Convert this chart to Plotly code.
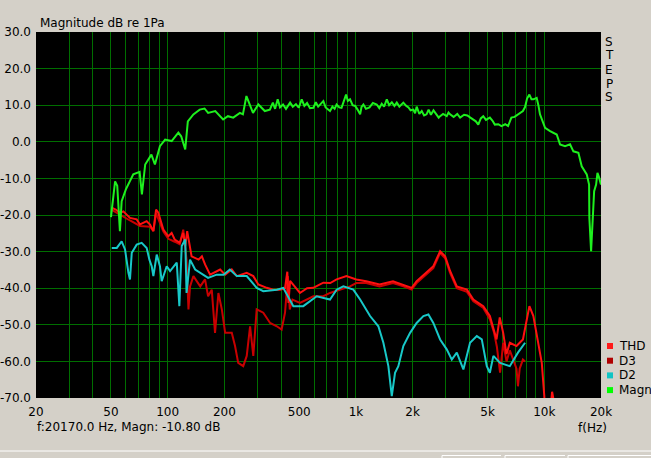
import math
import plotly.graph_objects as go

# ---------------- data ----------------
magn_f = [50, 52.6, 54, 55.8, 57, 60, 65.7, 71, 73, 76,
          82, 85.6, 91, 97, 105, 114, 118, 124, 128, 137,
          148, 157, 164, 179, 197, 209, 223, 242, 251, 262,
          284, 303, 328, 349, 362, 372, 384, 395, 410, 425,
          447, 462, 480, 497, 515, 532, 550, 570, 594, 612,
          630, 650, 671, 690, 710, 728, 750, 770, 789, 815,
          838, 860, 886, 905, 930, 960, 990, 1020, 1052, 1070,
          1095, 1130, 1180, 1230, 1289, 1330, 1370, 1410, 1458, 1500,
          1550, 1600, 1647, 1700, 1784, 1850, 1900, 1950, 2017, 2060,
          2100, 2170, 2235, 2300, 2370, 2430, 2500, 2580, 2680, 2750,
          2797, 2900, 3033, 3100, 3160, 3300, 3450, 3572, 3750, 3900,
          4050, 4202, 4330, 4461, 4600, 4741, 4900, 5140, 5300, 5462,
          5700, 5922, 6200, 6421, 6686, 6950, 7246, 7500, 7699, 7900,
          8100, 8335, 8550, 8749, 9109, 9300, 9486, 10095, 10730, 11640,
          12120, 12890, 13700, 14270, 15170, 15800, 16800, 17290, 17350, 17720,
          18090, 18390, 18840, 19150, 19550, 20000]
magn_db = [-20.6, -10.8, -12.0, -24.4, -16.2, -13.0, -8.9, -8.2, -14.4, -6.2,
           -3.5, -6.2, -1.2, 0.6, 0.2, 2.5, 1.5, -2.1, 5.6, 7.5,
           8.8, 9.1, 7.9, 8.4, 6.1, 7.0, 6.6, 7.9, 7.5, 12.5,
           7.9, 10.2, 8.4, 8.8, 10.7, 9.0, 11.6, 9.4, 10.2, 9.0,
           10.7, 9.6, 10.3, 9.3, 11.6, 9.8, 10.6, 9.2, 9.3, 10.8,
           9.6, 10.5, 11.1, 9.4, 8.8, 8.4, 9.6, 9.0, 10.2, 9.4,
           9.3, 10.8, 12.9, 11.2, 11.6, 10.0, 9.8, 8.8, 7.5, 9.5,
           10.2, 9.0, 9.4, 10.6, 10.2, 9.2, 10.4, 9.6, 11.6, 10.0,
           10.8, 9.8, 10.7, 9.6, 10.7, 9.8, 9.4, 8.6, 8.8, 7.8,
           9.6, 7.6, 8.4, 7.2, 7.5, 8.8, 7.4, 8.6, 7.5, 6.6,
           7.0, 7.6, 7.0, 8.0, 7.5, 6.8, 7.6, 6.6, 7.4, 7.2,
           6.6, 6.1, 5.6, 4.7, 6.4, 7.0, 6.0, 6.6, 5.8, 4.7,
           4.8, 4.3, 4.8, 4.3, 6.6, 6.8, 7.5, 8.0, 8.4, 9.5,
           11.8, 12.9, 11.6, 11.6, 12.0, 10.0, 7.5, 3.8, 2.9, 2.0,
           -0.7, -1.2, -0.7, -2.6, -3.0, -6.7, -8.9, -11.7, -20.8, -29.9,
           -18.0, -13.5, -11.7, -8.5, -9.8, -11.7]

thd_f = [50.5, 53, 55.9, 58.2, 63.1, 68.5, 71.3, 77.4, 80.6, 84,
         86.8, 89.2, 94.9, 100.8, 105, 109, 116, 121, 124, 127,
         134, 146, 152, 158, 168, 182, 190, 202, 219, 233,
         263, 285, 303, 336, 364, 395, 420, 432, 438, 447,
         504, 550, 594, 640, 671, 730, 789, 890, 1004, 1133,
         1335, 1573, 1784, 1976, 2100, 2370, 2575, 2797, 2975, 3160,
         3430, 3880, 4202, 4741, 5140, 5576, 5800, 6048, 6300, 6560,
         7117, 7699, 8335, 8749, 9300, 9696, 10000, 10050, 10500, 10900,
         11000, 11200]
thd_db = [-18.0, -18.5, -19.4, -19.0, -20.8, -21.2, -22.6, -21.7, -22.6, -24.4,
          -18.5, -19.4, -24.0, -25.8, -24.9, -26.7, -27.6, -24.9, -28.5, -24.4,
          -31.3, -32.2, -31.3, -33.5, -36.3, -35.3, -34.9, -36.3, -34.9, -36.7,
          -35.8, -36.7, -39.0, -39.9, -40.4, -40.4, -40.0, -35.5, -44.0, -38.0,
          -41.3, -40.0, -39.9, -39.0, -38.5, -38.6, -37.6, -36.7, -37.6, -38.1,
          -39.0, -38.1, -39.0, -39.9, -38.1, -35.8, -34.0, -29.9, -31.3, -35.3,
          -39.5, -40.4, -43.1, -44.9, -47.6, -54.0, -48.0, -52.2, -58.0, -54.9,
          -55.8, -54.0, -44.9, -47.6, -54.9, -60.4, -69.5, -72.0, None, -70.5,
          -68.3, -70.5]

d3_f = [50.5, 55.9, 63.1, 71.3, 80.6, 84, 86.8, 94.9, 100.8, 109,
        116, 121, 126, 129, 131.5, 137, 149, 158, 164, 171.5,
        178.5, 186, 194, 202, 219, 228, 237, 252, 263, 274,
        285, 297, 322, 350, 380, 403, 420, 435, 445, 460,
        504, 594, 671, 728, 815, 930, 1004, 1133, 1335, 1573,
        1784, 1976, 2100, 2370, 2575, 2797, 2975, 3160, 3430, 3880,
        4202, 4741, 5140, 5400, 5600, 5823, 6048, 6300, 6560, 7117,
        7246, 7400, 7699, 7900]
d3_db = [-18.6, -20.0, -21.5, -23.0, -23.2, -24.4, -19.5, -24.5, -26.5, -27.3,
         -28.0, -24.0, -32.2, -45.8, -39.5, -36.7, -39.5, -37.6, -42.2, -40.4,
         -52.2, -41.3, -45.8, -52.2, -52.2, -55.8, -60.4, -61.3, -58.5, -50.4,
         -58.5, -45.8, -46.7, -49.5, -50.4, -51.3, -46.7, -36.7, -45.8, -43.1,
         -44.0, -42.2, -42.2, -41.3, -40.4, -39.5, -38.6, -38.6, -39.5, -38.6,
         -39.5, -40.4, -38.6, -36.3, -34.5, -30.4, -31.8, -35.8, -40.0, -41.0,
         -43.6, -45.4, -48.5, -52.0, -56.0, -63.1, -54.9, -60.0, -57.0, -62.0,
         -66.8, -62.0, -59.5, -60.0]

d2_f = [50.5, 53.7, 57, 59.4, 61.9, 63.1, 64.5, 68.5, 72.8, 77.4,
        80, 82.3, 84, 87.5, 91, 93, 98.9, 103, 111.8, 115.4,
        118.8, 124, 126, 131.5, 140, 149, 164, 182, 198, 214,
        233, 263, 297, 322, 350, 380, 411, 465, 525, 619,
        728, 789, 857, 968, 1052, 1188, 1315, 1398, 1486, 1549,
        1612, 1679, 1784, 1938, 2100, 2280, 2424, 2575, 2797, 3033,
        3227, 3430, 3718, 4034, 4380, 4656, 4950, 5140, 5366, 5823,
        6560, 7246, 7906]
d2_db = [-29.0, -29.0, -27.2, -29.4, -35.8, -37.6, -30.3, -28.1, -27.6, -29.0,
         -32.2, -34.0, -36.7, -30.8, -34.0, -38.1, -34.0, -35.3, -33.0, -44.9,
         -28.5, -26.7, -41.3, -32.2, -34.9, -35.8, -37.2, -36.3, -36.3, -34.9,
         -36.7, -36.7, -39.9, -40.8, -40.5, -40.4, -39.9, -44.9, -44.9, -42.2,
         -43.1, -40.4, -39.5, -40.4, -43.1, -47.6, -50.4, -54.9, -61.3, -69.5,
         -63.1, -61.3, -55.8, -52.2, -49.5, -47.6, -47.2, -49.5, -54.0, -56.7,
         -59.5, -57.6, -62.2, -54.9, -53.1, -54.0, -61.3, -63.1, -58.5, -60.4,
         -61.3, -57.6, -54.9]

x_tick_vals = [20, 50, 100, 200, 500, 1000, 2000, 5000, 10000, 20000]
x_tick_text = ["20", "50", "100", "200", "500", "1k", "2k", "5k", "10k", "20k"]
y_tick_vals = [-70, -60, -50, -40, -30, -20, -10, 0, 10, 20, 30]

legend_names = ["THD", "D3", "D2", "Magn"]
legend_colors = ["#FF1A1A", "#B00000", "#10C4C4", "#00FF00"]

# ---------------- styling ----------------
BG = "#D4D0C8"
GRID = "#006E00"
FONT = "DejaVu Sans, sans-serif"
FS = 12
W, H = 651, 458
L, R, T, B = 36, 601, 32, 398


def px(X):
    return (X - L) / (R - L)


def py(Y):
    return (B - Y) / (B - T)


minor_vals = []
for dec in [10, 100, 1000, 10000]:
    for m in range(1, 10):
        v = m * dec
        if 20 <= v <= 20000 and v not in x_tick_vals:
            minor_vals.append(v)

fig = go.Figure()
series = [
    (d3_f, d3_db, "#C80000"),
    (thd_f, thd_db, "#FF1010"),
    (d2_f, d2_db, "#18C8C8"),
    (magn_f, magn_db, "#1EF01E"),
]
for f, v, c in series:
    fig.add_trace(go.Scatter(x=f, y=v, mode="lines", connectgaps=False,
                             line=dict(color=c, width=2), hoverinfo="skip",
                             showlegend=False))

fig.update_layout(
    width=W, height=H,
    margin=dict(l=L, r=W - R, t=T, b=H - B, pad=0, autoexpand=False),
    paper_bgcolor=BG, plot_bgcolor="black",
    font=dict(family=FONT, size=FS, color="black"),
    showlegend=False,
)
fig.update_xaxes(
    type="log", range=[math.log10(20), math.log10(20000)],
    tickmode="array", tickvals=x_tick_vals, ticktext=x_tick_text,
    showgrid=True, gridcolor=GRID, gridwidth=1,
    minor=dict(tickmode="array", tickvals=minor_vals, showgrid=True,
               gridcolor=GRID, gridwidth=1, ticklen=0),
    ticks="", zeroline=False, showline=False, ticklabelstandoff=5,
    automargin=False, tickfont=dict(size=FS),
)
fig.update_yaxes(
    range=[-70, 30], tickmode="array", tickvals=y_tick_vals,
    ticktext=["%.1f" % v for v in y_tick_vals],
    showgrid=True, gridcolor=GRID, gridwidth=1,
    ticks="", zeroline=False, showline=False, ticklabelstandoff=4,
    automargin=False, tickfont=dict(size=FS),
)

ann = []
ann.append(dict(text="Magnitude dB re 1Pa", x=px(38), y=py(23), xanchor="left",
                yanchor="middle"))
for i, ch in enumerate("STEPS"):
    ann.append(dict(text=ch, x=px(609), y=py(41 + i * 14), xanchor="center",
                    yanchor="middle", height=13))
ann.append(dict(text="f:20170.0 Hz, Magn: -10.80 dB", x=px(35), y=py(427),
                xanchor="left", yanchor="middle"))
ann.append(dict(text="f(Hz)", x=px(576), y=py(428), xanchor="left",
                yanchor="middle"))
shapes = []
for i, (nm, col) in enumerate(zip(legend_names, legend_colors)):
    yc = 346 + i * 14.7
    shapes.append(dict(type="rect", xref="paper", yref="paper",
                       x0=px(607), x1=px(613), y0=py(yc - 3), y1=py(yc + 3),
                       fillcolor=col, line=dict(width=0)))
    ann.append(dict(text=nm, x=px(617), y=py(yc), xanchor="left",
                    yanchor="middle"))

# window separator and button edges at the bottom
shapes.append(dict(type="line", xref="paper", yref="paper", x0=px(0), x1=px(651),
                   y0=py(451), y1=py(451), line=dict(color="white", width=1)))
for x0, x1 in [(442, 501), (505, 565), (568, 651)]:
    shapes.append(dict(type="line", xref="paper", yref="paper", x0=px(x0), x1=px(x1),
                       y0=py(455.5), y1=py(455.5), line=dict(color="white", width=1)))
    shapes.append(dict(type="line", xref="paper", yref="paper", x0=px(x0), x1=px(x0),
                       y0=py(455.5), y1=py(460), line=dict(color="white", width=1)))

for a in ann:
    a.update(xref="paper", yref="paper", showarrow=False,
             font=dict(family=FONT, size=FS, color="black"))
fig.update_layout(annotations=ann, shapes=shapes)

fig.write_html("out.html", config={"displayModeBar": False},
               post_script="document.body.style.margin='0';"
                           "document.body.style.overflow='hidden';")
